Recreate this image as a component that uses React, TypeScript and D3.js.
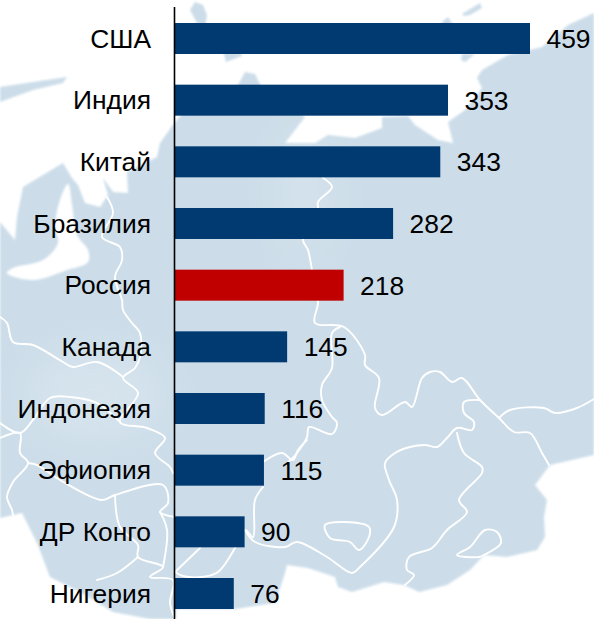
import React from "react";
import * as d3 from "d3";

const countries = ["США", "Индия", "Китай", "Бразилия", "Россия", "Канада", "Индонезия", "Эфиопия", "ДР Конго", "Нигерия"];
const values = [459, 353, 343, 282, 218, 145, 116, 115, 90, 76];
const highlighted = "Россия";

const WIDTH = 594;
const HEIGHT = 619;

const LAND = "M594,13 L568,25 542,47 508,55 482,70 477,78 482,88 465,110 448,122 453,143 438,140 415,125 408,116 382,117 382,128 355,138 328,135 315,143 285,143 305,117 262,88 255,74 245,72 238,85 195,100 175,122 160,143 157,157 127,172 128,193 113,192 103,178 108,195 100,207 85,203 78,185 72,178 63,163 23,187 17,217 15,240 0,222 0,518 22,513 37,543 50,577 80,592 113,612 150,619 176,619 176,609 235,609 275,603 285,573 287,565 308,568 335,577 338,587 352,592 384,582 404,585 419,592 447,585 470,570 484,555 507,557 537,550 545,537 544,517 547,500 535,485 550,465 594,455 Z";
const ISLANDS = [
  "M190,10 L195,2 203,5 207,15 205,28 240,50 242,56 226,62 224,54 198,25 Z",
  "M442,22 L448,17 452,23 452,30 442,30 Z",
  "M462,54 L475,54 465,62 461,60 Z",
  "M462,14 L480,3 482,8 470,15 464,16 Z",
  "M0,87 L33,82 67,77 63,83 33,90 0,102 Z",
];
const SEA = "M68,184 L60,200 55,227 58,243 43,260 13,268 7,273 33,280 67,270 88,262 88,250 77,235 72,205 Z";
const BORDERS = [
  "M107,197 L113,213 102,237 120,247 122,260 115,277 122,300 123,310 132,323 140,333 140,357 135,368 123,378 138,393 120,422 147,428 165,438 155,453 170,467 173,473",
  "M0,317 L7,323 13,342 33,345 63,362 73,367 97,362 123,377",
  "M0,423 L20,433 33,420 50,398 70,397 97,403 120,422",
  "M0,438 L20,433 20,453 28,463 13,482 7,497 12,510 13,515",
  "M28,463 L37,465 60,480 102,500 115,495 163,485 168,503 160,512 175,517",
  "M160,512 L167,530 163,567",
  "M115,495 L120,527 138,545 138,557 163,567 150,577 173,580 170,603 175,619",
  "M138,557 L117,573 97,580",
  "M175,572 L200,548",
  "M175,572 L183,576 202,577 218,572 235,548 245,530 253,537 255,500 263,487",
  "M263,462 L282,453 293,460 298,450 307,440",
  "M245,530 L255,542 285,547 297,542 327,557 352,573 360,567 394,527 397,500 389,480 385,463 395,453 410,447 425,445 437,447 447,438 457,428 472,430 474,422 464,413 464,402 480,400",
  "M323,178 L332,187 318,202 318,210 303,240 308,250 312,270 318,302 315,323 344,327 365,355 365,365 379,378 375,408 382,415 405,402 412,407 422,378 430,372 440,372 452,382 462,378 480,400 499,418 514,432 530,433 542,453 549,465",
  "M499,418 L510,410 544,408 555,413 577,408 594,399",
  "M340,327 L332,333 332,368 322,385 322,400 332,417 337,423 332,434 309,427 307,437 297,453 285,465",
  "M457,433 L464,453 482,467 482,473 459,500 467,512 447,530 432,548 409,557 407,570 414,575 405,585",
  "M325,525 L345,522 369,527 369,537 359,550 350,542 330,538 Z",
  "M457,555 L470,547 485,530 497,532 501,543 484,555 479,557 Z",
];

type Pt = [number, number];
const parsePts = (d: string): Pt[] =>
  (d.match(/-?\d+(?:\.\d+)?,-?\d+(?:\.\d+)?/g) || []).map((s) => s.split(",").map(Number) as Pt);
const openLine = d3.line<Pt>().curve(d3.curveCatmullRom.alpha(0.5));
const closedLine = d3.line<Pt>().curve(d3.curveCatmullRomClosed.alpha(0.5));
const smooth = (d: string) => (/Z\s*$/.test(d) ? closedLine : openLine)(parsePts(d)) || "";

export default function App() {
  const x = d3.scaleLinear().domain([0, 459]).range([175, 530]);
  const y = d3.scalePoint<string>().domain(countries).range([23, 578]);
  const barH = 31;
  const font = "'Liberation Sans', Arial, sans-serif";
  const fontSize = 26.4;

  return (
    <svg width={WIDTH} height={HEIGHT} viewBox={`0 0 ${WIDTH} ${HEIGHT}`}
      style={{ position: "absolute", left: 0, top: 0, background: "#fff" }}>
      <defs>
        <filter id="soft" x="-5%" y="-5%" width="110%" height="110%">
          <feGaussianBlur stdDeviation="1.2" />
        </filter>
        <filter id="glow" x="-50%" y="-50%" width="200%" height="200%">
          <feGaussianBlur stdDeviation="22" />
        </filter>
        <clipPath id="landClip"><path d={LAND} /></clipPath>
      </defs>
      <g filter="url(#soft)">
        <path d={LAND} fill="#ccdde9" />
        {ISLANDS.map((d, i) => <path key={i} d={d} fill="#ccdde9" />)}
        <path d={smooth(SEA)} fill="#fff" />
      </g>
      <g clipPath="url(#landClip)">
        <ellipse cx={95} cy={395} rx={70} ry={45} fill="#fff" opacity={0.2} filter="url(#glow)" />
        <ellipse cx={305} cy={190} rx={35} ry={70} fill="#fff" opacity={0.14} filter="url(#glow)" />
      </g>
      <g fill="none" stroke="#fff" strokeWidth={1.9} strokeLinejoin="round" strokeLinecap="round">
        {BORDERS.map((d, i) => <path key={i} d={smooth(d)} />)}
      </g>
      {countries.map((c, i) => {
        const t = y(c) as number;
        return (
          <g key={c}>
            <rect x={x(0)} y={t} width={x(values[i]) - x(0)} height={barH}
              fill={c === highlighted ? "#c00000" : "#003a70"} />
            <text x={151} y={t + 24.5} textAnchor="end" fontFamily={font} fontSize={fontSize} fill="#000">{c}</text>
            <text x={x(values[i]) + 16.5} y={t + 25} fontFamily={font} fontSize={fontSize} fill="#000">{values[i]}</text>
          </g>
        );
      })}
      <line x1={174.5} x2={174.5} y1={7} y2={619} stroke="#000" strokeWidth={1.6} />
    </svg>
  );
}
